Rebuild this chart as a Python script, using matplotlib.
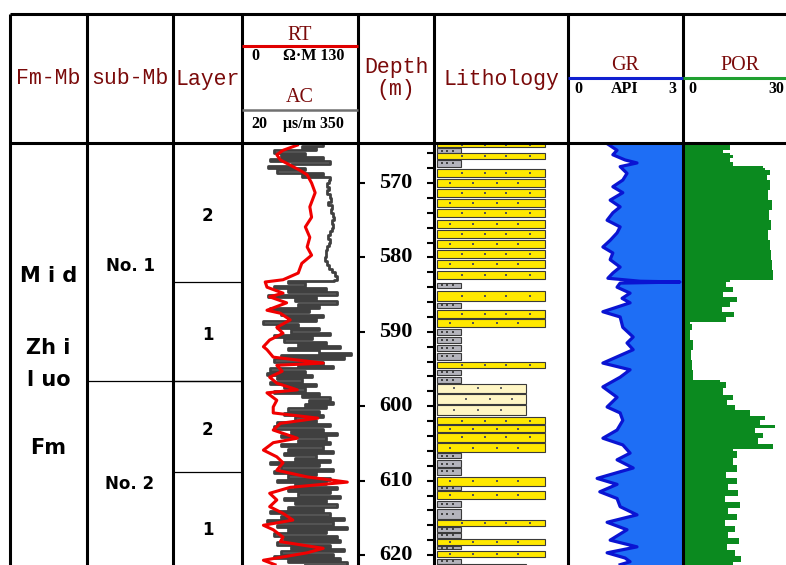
import matplotlib
matplotlib.use('Agg')
import matplotlib.pyplot as plt

# ---------------- data ----------------
depth_ticks = [570, 580, 590, 600, 610, 620]
depth_minor = [566, 568, 570, 572, 574, 576, 578, 580, 582, 584, 586, 588, 590, 592, 594,
               596, 598, 600, 602, 604, 606, 608, 610, 612, 614, 616, 618, 620]

sub_members = ['No. 1', 'No. 2']
sub_tops = [564.62, 596.6]
sub_bases = [596.6, 623.4]

layers = ['2', '1', '2', '1']
layer_tops = [564.62, 583.3, 596.6, 608.9]
layer_bases = [583.3, 596.6, 608.9, 623.4]

fm_lines = ['M i d', 'Zh i', 'l uo', 'Fm']
fm_depths = [582.5, 592.2, 596.5, 605.6]

# lithology beds (S sandstone, M mudstone, F siltstone)
bed_top = [564.6, 565.3, 566.0, 566.9, 568.1, 569.5, 570.8, 572.2, 573.5, 575.0,
           576.3, 577.7, 579.0, 580.3, 581.8, 583.4, 584.5, 586.1, 587.1, 588.3,
           589.6, 590.7, 591.8, 592.8, 594.1, 595.1, 596.1, 597.0, 598.4, 599.8,
           601.5, 602.5, 603.6, 604.9, 606.3, 607.2, 608.3, 609.5, 610.7, 611.4,
           612.7, 613.8, 615.3, 616.2, 617.0, 617.8, 618.8, 619.5, 620.5, 621.2]
bed_base = [565.2, 566.0, 566.8, 567.8, 569.2, 570.5, 571.9, 573.2, 574.6, 576.0,
            577.4, 578.7, 580.1, 581.4, 582.9, 584.1, 585.9, 586.8, 588.1, 589.4,
            590.4, 591.5, 592.6, 593.8, 594.9, 595.8, 596.9, 598.2, 599.7, 601.2,
            602.4, 603.5, 604.8, 606.2, 607.0, 608.2, 609.2, 610.7, 611.3, 612.5,
            613.5, 615.2, 616.1, 616.9, 617.7, 618.7, 619.2, 620.3, 621.2, 622.0]
bed_type = ['S', 'M', 'S', 'M', 'S', 'S', 'S', 'S', 'S', 'S',
            'S', 'S', 'S', 'S', 'S', 'M', 'S', 'M', 'S', 'S',
            'M', 'M', 'M', 'M', 'S', 'M', 'M', 'F', 'F', 'F',
            'S', 'S', 'S', 'S', 'M', 'M', 'M', 'S', 'M', 'S',
            'M', 'M', 'S', 'M', 'M', 'S', 'M', 'S', 'M', 'F']

# RT (ohm.m)
rt_depth = [564.9, 565.6, 566.2, 566.9, 567.6, 568.3, 568.9, 570.0, 571.3, 573.2,
            574.6, 575.9, 577.3, 578.6, 579.7, 580.8, 582.1, 583.0, 583.3, 584.0,
            584.8, 585.3, 586.1, 587.1, 587.5, 588.4, 589.4, 590.2, 591.1, 592.0,
            592.4, 593.4, 594.2, 594.5, 595.3, 596.1, 596.9, 597.8, 598.2, 599.2,
            600.1, 600.9, 601.6, 602.3, 603.2, 604.3, 604.9, 605.9, 606.8, 607.6,
            608.6, 609.5, 610.2, 610.9, 611.7, 612.6, 613.5, 614.4, 615.3, 616.0,
            616.6, 617.6, 618.2, 619.1, 619.7, 620.7, 621.3]
rt = [62, 46, 39, 43, 54, 65, 73, 78, 82, 76,
      78, 71, 76, 73, 78, 67, 63, 46, 26, 28,
      46, 31, 50, 28, 43, 54, 39, 46, 31, 24,
      28, 35, 91, 39, 45, 31, 39, 62, 28, 39,
      35, 35, 85, 43, 35, 62, 35, 24, 39, 46,
      39, 73, 118, 54, 31, 39, 31, 46, 57, 24,
      35, 46, 43, 91, 73, 24, 37]

# AC (us/m)
ac_depth = [564.7, 565.0, 565.3, 565.6, 565.9, 566.2, 566.5, 566.8, 567.1, 567.4,
            567.7, 568.0, 568.3, 568.6, 568.9, 569.2, 569.6, 570.0, 570.5, 571.0,
            571.5, 572.0, 572.5, 573.0, 573.5, 574.0, 574.5, 575.0, 575.5, 576.0,
            576.5, 577.0, 577.5, 578.0, 578.5, 579.0, 579.5, 580.0, 580.5, 581.0,
            581.5, 582.0, 582.5, 583.0, 583.2, 583.5, 583.8, 584.1, 584.4, 584.7,
            585.0, 585.3, 585.6, 585.9, 586.2, 586.5, 586.8, 587.1, 587.4, 587.7,
            588.0, 588.3, 588.6, 588.9, 589.2, 589.5, 589.8, 590.1, 590.4, 590.7,
            591.0, 591.3, 591.6, 591.9, 592.2, 592.5, 592.8, 593.1, 593.4, 593.7,
            594.0, 594.3, 594.6, 594.9, 595.2, 595.5, 595.8, 596.1, 596.4, 596.7,
            597.0, 597.3, 597.6, 597.9, 598.2, 598.5, 598.8, 599.1, 599.4, 599.7,
            600.0, 600.3, 600.6, 600.9, 601.2, 601.5, 601.8, 602.1, 602.4, 602.7,
            603.0, 603.3, 603.6, 603.9, 604.2, 604.5, 604.8, 605.1, 605.4, 605.7,
            606.0, 606.3, 606.6, 606.9, 607.2, 607.5, 607.8, 608.1, 608.4, 608.7,
            609.0, 609.3, 609.6, 609.9, 610.2, 610.5, 610.8, 611.1, 611.4, 611.7,
            612.0, 612.3, 612.6, 612.9, 613.2, 613.5, 613.8, 614.1, 614.4, 614.7,
            615.0, 615.3, 615.6, 615.9, 616.2, 616.5, 616.8, 617.1, 617.4, 617.7,
            618.0, 618.3, 618.6, 618.9, 619.2, 619.5, 619.8, 620.1, 620.4, 620.7,
            621.0, 621.3]
ac = [250, 190, 230, 110, 200, 130, 250, 100, 270, 160,
      95, 200, 120, 250, 190, 270, 268, 262, 268, 262,
      270, 272, 266, 275, 272, 278, 282, 276, 280, 275,
      270, 266, 270, 268, 262, 260, 258, 256, 262, 268,
      275, 285, 290, 282, 150, 200, 110, 260, 150, 290,
      95, 230, 170, 290, 180, 240, 100, 210, 130, 250,
      150, 230, 80, 180, 120, 240, 160, 270, 110, 220,
      140, 260, 180, 300, 150, 240, 330, 130, 310, 110,
      250, 180, 280, 100, 200, 90, 220, 120, 190, 100,
      230, 140, 200, 110, 240, 190, 270, 210, 280, 200,
      260, 150, 240, 140, 250, 170, 230, 120, 270, 110,
      250, 160, 290, 130, 260, 180, 270, 130, 250, 150,
      280, 140, 230, 170, 270, 100, 240, 130, 280, 110,
      230, 150, 270, 120, 260, 170, 290, 150, 270, 180,
      300, 140, 260, 170, 290, 150, 250, 100, 270, 130,
      310, 90, 280, 120, 320, 150, 260, 110, 290, 140,
      300, 120, 270, 160, 310, 130, 280, 110, 300, 150,
      320, 200]

# GR (API)
gr_depth = [564.7, 565.6, 566.2, 566.9, 567.3, 567.8, 568.7, 569.6, 570.5, 571.3,
            572.3, 573.2, 574.0, 575.0, 575.9, 576.7, 577.7, 578.6, 579.4, 580.3,
            581.3, 582.1, 582.8, 583.2, 583.3, 583.45, 584.0, 584.8, 585.5, 586.1,
            587.3, 588.0, 589.4, 590.7, 591.5, 592.4, 594.2, 595.1, 596.1, 597.4,
            598.8, 600.1, 600.9, 601.9, 603.2, 604.3, 605.2, 606.3, 607.2, 608.3,
            609.7, 610.5, 611.5, 612.4, 613.5, 614.6, 615.6, 616.6, 618.0, 618.9,
            619.7, 620.4, 620.9, 621.3]
gr = [1.02, 1.28, 1.17, 1.49, 1.80, 1.36, 1.54, 1.43, 1.17, 1.43,
      1.10, 1.36, 1.17, 1.02, 1.36, 1.28, 1.10, 0.91, 1.17, 1.10,
      1.36, 1.17, 1.04, 1.88, 2.92, 1.36, 1.28, 1.62, 1.41, 1.62,
      0.91, 1.36, 1.43, 1.70, 1.54, 1.70, 0.91, 1.62, 1.36, 0.91,
      1.28, 1.02, 1.36, 1.43, 1.28, 0.91, 1.43, 1.62, 1.28, 1.70,
      0.76, 1.28, 0.83, 1.28, 1.36, 1.80, 1.02, 1.54, 1.10, 1.80,
      1.02, 1.49, 1.62, 1.36]

# POR (%)
por_depth = [564.6, 565.6, 566.0, 566.2, 566.6, 567.2, 567.7, 568.0, 568.3, 568.9,
             569.6, 570.9, 572.3, 573.6, 575.0, 576.3, 577.7, 579.0, 580.3, 581.7,
             583.0, 583.3, 584.0, 584.7, 585.3, 586.0, 586.7, 587.3, 588.0, 588.7,
             588.95, 589.8, 591.1, 592.4, 593.8, 595.1, 596.5, 596.7, 597.6, 598.5,
             599.2, 599.8, 600.5, 601.3, 601.9, 602.5, 602.9, 603.6, 604.3, 605.1,
             605.8, 606.0, 607.0, 607.9, 608.8, 609.7, 610.5, 611.3, 612.1, 612.9,
             613.7, 614.5, 615.3, 616.1, 616.9, 617.7, 618.5, 619.3, 620.1, 620.9,
             621.4]
por = [13.0, 12.3, 10.4, 12.3, 13.0, 12.3, 13.0, 20.9, 21.4, 22.7,
       21.9, 22.7, 22.2, 23.2, 22.4, 23.0, 22.2, 22.7, 23.0, 23.2,
       23.5, 12.3, 11.2, 13.0, 10.4, 14.1, 12.3, 10.2, 13.3, 11.2,
       1.8, 2.3, 1.8, 2.6, 2.1, 2.3, 2.6, 9.7, 11.2, 10.4,
       13.0, 11.5, 13.6, 17.5, 21.4, 20.1, 24.0, 18.8, 20.9, 19.6,
       23.5, 13.0, 14.1, 13.0, 14.1, 11.2, 14.1, 11.7, 14.3, 11.0,
       14.9, 11.7, 14.1, 11.0, 13.6, 11.7, 14.6, 11.5, 13.6, 15.1,
       13.0]

# ---------------- layout ----------------
W, H = 786, 565
col_x = [10, 87, 173, 242, 358, 434, 568, 683, 798]
head_top, head_bot = 14, 143
d_top, d_bot = 564.62, 621.34
maroon = '#7a0a0a'
serif = 'Liberation Serif'
mono = 'Liberation Mono'

fig = plt.figure(figsize=(W / 100, H / 100), dpi=100)


def px_axes(x0, x1, y0=head_bot, y1=H, z=1):
    ax = fig.add_axes([x0 / W, 1 - y1 / H, (x1 - x0) / W, (y1 - y0) / H], zorder=z)
    ax.patch.set_alpha(0)
    ax.set_ylim(d_bot, d_top)
    ax.set_axis_off()
    return ax


# zones: formation / sub-member / layer
zone = px_axes(0, W)
zone.set_xlim(0, W)
for top, base, name in zip(sub_tops, sub_bases, sub_members):
    zone.text((col_x[1] + col_x[2]) / 2, (top + base) / 2 + 0.5, name, ha='center', va='center',
              fontsize=12, fontweight='bold', family='DejaVu Sans')
zone.hlines(sub_bases[:-1], col_x[1], col_x[3], color='black', lw=0.9)
for top, base, name in zip(layer_tops, layer_bases, layers):
    zone.text((col_x[2] + col_x[3]) / 2, (top + base) / 2 + 0.5, name, ha='center', va='center',
              fontsize=12, fontweight='bold', family='DejaVu Sans')
zone.hlines(layer_bases[:-1], col_x[2], col_x[3], color='black', lw=0.9)
for txt, d in zip(fm_lines, fm_depths):
    zone.text((col_x[0] + col_x[1]) / 2, d, txt, ha='center', va='center',
              fontsize=15, fontweight='bold', family='DejaVu Sans')

# RT / AC track
ax_ac = px_axes(col_x[3], col_x[4])
ax_ac.set_xlim(20, 350)
ax_ac.plot(ac, ac_depth, drawstyle='steps-pre', color='#404040', lw=2.0)
ax_rt = px_axes(col_x[3], col_x[4], z=2)
ax_rt.set_xlim(0, 130)
ax_rt.plot(rt, rt_depth, color='#f00000', lw=2.2)

# depth track
ax_d = px_axes(col_x[4], col_x[5], z=3)
ax_d.set_axis_on()
ax_d.set_xlim(0, 1)
for s in ax_d.spines.values():
    s.set_visible(False)
ax_d.xaxis.set_visible(False)
ax_d.set_yticks(depth_ticks)
ax_d.set_yticklabels([])
ax_d.tick_params(axis='y', direction='in', length=5, width=1.5, left=True, right=False)
ax_d2 = ax_d.twinx()
ax_d2.set_ylim(d_bot, d_top)
for s in ax_d2.spines.values():
    s.set_visible(False)
ax_d2.set_yticks(depth_minor)
ax_d2.set_yticklabels([])
ax_d2.tick_params(axis='y', direction='in', length=5, width=1.5, left=False, right=True)
for d in depth_ticks:
    ax_d.text(0.5, d, str(d), ha='center', va='center', fontsize=16,
              fontweight='bold', family=serif)

# lithology track
lith = px_axes(col_x[5], col_x[6])
lith.set_xlim(0, 1)
lith_style = {'S': ('#ffe800', 0.80), 'M': ('#b4b4bc', 0.18), 'F': ('#fff6c4', 0.66)}
for i, (top, base, t) in enumerate(zip(bed_top, bed_base, bed_type)):
    fc, w = lith_style[t]
    lith.barh((top + base) / 2, w, height=base - top, left=0.025, color=fc,
              edgecolor='#3a3a3a', lw=0.8)
    mid = (top + base) / 2
    if t == 'S':
        xs = [0.12, 0.29, 0.47, 0.63] if i % 2 else [0.21, 0.38, 0.54, 0.72]
        lith.scatter(xs, [mid] * 4, s=2, color='#555555', marker='s', lw=0)
    elif t == 'M':
        lith.scatter([0.06, 0.10, 0.14], [mid] * 3, s=3, color='#444444', marker='s', lw=0)
    else:
        xs = [0.15, 0.33, 0.50] if i % 2 else [0.24, 0.42, 0.58]
        lith.scatter(xs, [mid] * 3, s=3, color='#666666', marker='s', lw=0)

# GR track
ax_gr = px_axes(col_x[6], col_x[7])
ax_gr.set_xlim(0, 3)
ax_gr.fill_betweenx(gr_depth, gr, 3, color='#1e6ef5', lw=0)
ax_gr.plot(gr, gr_depth, color='#0a14d2', lw=2.3)

# POR track
ax_por = px_axes(col_x[7], col_x[8])
ax_por.set_xlim(0, 30)
ax_por.fill_betweenx(por_depth, 0, por, step='pre', color='#0b8a1f', lw=0)

# ---------------- frame & header ----------------
frame = fig.add_axes([0, 0, 1, 1], zorder=10)
frame.patch.set_alpha(0)
frame.set_xlim(0, W)
frame.set_ylim(H, 0)
frame.set_axis_off()
frame.hlines([head_top, head_bot], col_x[0], W, color='black', lw=2.2)
frame.vlines(col_x[:-1], head_top, H, color='black', lw=2.2)


def center(i):
    return (col_x[i] + col_x[i + 1]) / 2


for i, txt in enumerate(['Fm-Mb', 'sub-Mb', 'Layer']):
    frame.text(center(i), 79, txt, ha='center', va='center', fontsize=15.5,
               color=maroon, family=mono)
frame.text(center(4), 67, 'Depth', ha='center', va='center', fontsize=15.5,
           color=maroon, family=mono)
frame.text(center(4), 90, '(m)', ha='center', va='center', fontsize=15.5,
           color=maroon, family=mono)
frame.text(center(5), 79, 'Lithology', ha='center', va='center', fontsize=15.5,
           color=maroon, family=mono)

# RT / AC header
frame.text(center(3), 35, 'RT', ha='center', va='center', fontsize=14.5, color=maroon, family=serif)
frame.hlines(46, col_x[3], col_x[4], color='#e00000', lw=2.2)
frame.text(255, 56, '0', ha='center', va='center', fontsize=11.5, fontweight='bold', family=serif)
frame.text(314, 56, 'Ω·M 130', ha='center', va='center', fontsize=11.5, fontweight='bold', family=serif)
frame.text(center(3), 98, 'AC', ha='center', va='center', fontsize=14.5, color=maroon, family=serif)
frame.hlines(110, col_x[3], col_x[4], color='#707070', lw=1.8)
frame.text(259, 124, '20', ha='center', va='center', fontsize=11.5, fontweight='bold', family=serif)
frame.text(313, 124, 'μs/m 350', ha='center', va='center', fontsize=11.5, fontweight='bold', family=serif)

# GR / POR header
frame.text(center(6), 66, 'GR', ha='center', va='center', fontsize=14.5, color=maroon, family=serif)
frame.hlines(78, col_x[6], col_x[7], color='#1020d0', lw=2.2)
frame.text(578, 89, '0', ha='center', va='center', fontsize=11.5, fontweight='bold', family=serif)
frame.text(625, 89, 'API', ha='center', va='center', fontsize=11.5, fontweight='bold', family=serif)
frame.text(672, 89, '3', ha='center', va='center', fontsize=11.5, fontweight='bold', family=serif)
frame.text(740, 66, 'POR', ha='center', va='center', fontsize=14.5, color=maroon, family=serif)
frame.hlines(78, col_x[7], W, color='#20a030', lw=2.2)
frame.text(692, 89, '0', ha='center', va='center', fontsize=11.5, fontweight='bold', family=serif)
frame.text(784, 89, '30', ha='right', va='center', fontsize=11.5, fontweight='bold', family=serif)

fig.savefig('out.png', dpi=100, facecolor='white')
